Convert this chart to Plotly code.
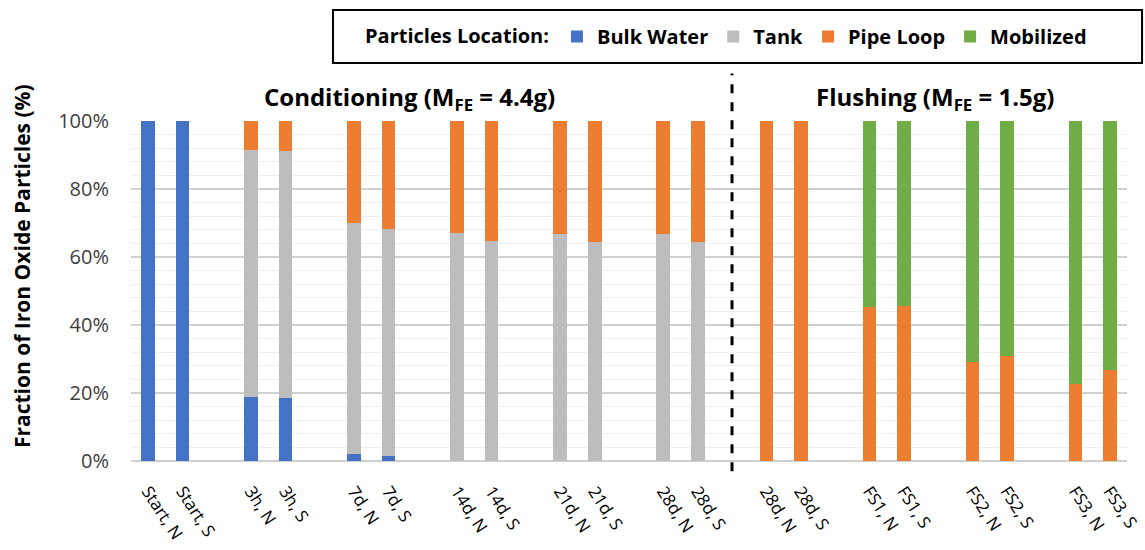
import plotly.graph_objects as go

# ---- data ----
conditioning_groups = ["Start", "3h", "7d", "14d", "21d", "28d"]
flushing_groups = ["28d", "FS1", "FS2", "FS3"]
sides = ["N", "S"]

# values (%) per bar, order: conditioning N,S pairs then flushing N,S pairs
bulk_water = [100, 100, 18.9, 18.6, 2.0, 1.6, 0, 0, 0, 0, 0, 0,
              0, 0, 0, 0, 0, 0, 0, 0]
tank = [0, 0, 72.6, 72.6, 68.1, 66.5, 67.0, 64.7, 66.8, 64.4, 66.8, 64.4,
        0, 0, 0, 0, 0, 0, 0, 0]
pipe_loop = [0, 0, 8.5, 8.8, 29.9, 31.9, 33.0, 35.3, 33.2, 35.6, 33.2, 35.6,
             100, 100, 45.4, 45.6, 29.0, 30.8, 22.6, 26.8]
mobilized = [0, 0, 0, 0, 0, 0, 0, 0, 0, 0, 0, 0,
             0, 0, 54.6, 54.4, 71.0, 69.2, 77.4, 73.2]

series_names = ["Bulk Water", "Tank", "Pipe Loop", "Mobilized"]
series_colors = ["#4472C4", "#BDBDBD", "#ED7D31", "#70AD47"]

# ---- slot positions (one empty slot between pairs) ----
labels, xs = [], []
slot = 0
all_groups = conditioning_groups + flushing_groups
for gi, g in enumerate(all_groups):
    for s in sides:
        labels.append(f"{g}, {s}")
        xs.append(slot)
        slot += 1
    slot += 1  # gap
n_cond_bars = 2 * len(conditioning_groups)
divider_x = (xs[n_cond_bars - 1] + xs[n_cond_bars]) / 2
x_max = xs[-1]

FONT = "Open Sans"
fig = go.Figure()
for name, vals, col in zip(series_names, [bulk_water, tank, pipe_loop, mobilized], series_colors):
    fig.add_trace(go.Bar(x=xs, y=vals, name=name, marker=dict(color=col, line=dict(width=0)),
                         width=0.4))

# legend frame (paper coords)
box_x0, box_x1, box_y0, box_y1 = 0.2028, 1.0151, 1.1706, 1.3265

fig.update_layout(
    barmode="stack",
    width=1145, height=550,
    margin=dict(l=131, r=18, t=121, b=89),
    plot_bgcolor="white", paper_bgcolor="white",
    font=dict(family=FONT, color="black"),
    showlegend=True,
    legend=dict(
        orientation="h", traceorder="normal",
        x=(box_x0 + box_x1) / 2 - 0.01, xanchor="center",
        y=(box_y0 + box_y1) / 2, yanchor="middle",
        borderwidth=0, bgcolor="rgba(0,0,0,0)",
        font=dict(family=FONT, size=20, color="black", weight="bold"),
        title=dict(text="Particles Location:", side="left",
                   font=dict(family=FONT, size=20, color="black", weight="bold")),
        itemwidth=30,
    ),
    bargap=0,
)
fig.add_shape(type="rect", xref="paper", yref="paper", x0=box_x0, x1=box_x1,
              y0=box_y0, y1=box_y1, line=dict(color="black", width=2), layer="below")

fig.update_xaxes(
    range=[-0.5, x_max + 0.5], automargin=False,
    tickmode="array", tickvals=xs, ticktext=labels,
    tickangle=57, tickfont=dict(family=FONT, size=17, color="black"),
    ticklabelstandoff=16,
    showgrid=False, zeroline=False, showline=False, ticks="",
)
fig.update_yaxes(
    range=[0, 100], dtick=20, ticksuffix="%", automargin=False,
    tickfont=dict(family=FONT, size=20, color="#404040"),
    ticklabelstandoff=21,
    showgrid=True, gridcolor="#D0D0D0", gridwidth=1.5,
    minor=dict(dtick=4, showgrid=True, gridcolor="#EFEFEF", gridwidth=1),
    zeroline=True, zerolinecolor="#D0D0D0", zerolinewidth=1.5,
    showline=False,
)

# y-axis title (placed as annotation to match reference position)
fig.add_annotation(x=-0.1094, y=0.5735, xref="paper", yref="paper",
                   text="Fraction of Iron Oxide Particles (%)", textangle=-90,
                   showarrow=False, xanchor="center", yanchor="middle",
                   font=dict(family=FONT, size=21, color="black", weight="bold"))

# divider line
fig.add_shape(type="line", xref="x", yref="paper", x0=divider_x, x1=divider_x,
              y0=-0.03, y1=1.14, line=dict(color="black", width=3, dash="dash"))

# section headings
cond_center = (xs[0] + xs[n_cond_bars - 1]) / 2 - 0.4
flush_center = (xs[n_cond_bars] + xs[-1]) / 2 - 0.1
fig.add_annotation(x=cond_center, y=1.0, xref="x", yref="paper", yanchor="bottom",
                   text="Conditioning (M<sub>FE</sub> = 4.4g)", showarrow=False, yshift=3,
                   font=dict(family=FONT, size=24, color="black", weight="bold"))
fig.add_annotation(x=flush_center, y=1.0, xref="x", yref="paper", yanchor="bottom",
                   text="Flushing (M<sub>FE</sub> = 1.5g)", showarrow=False, yshift=3,
                   font=dict(family=FONT, size=24, color="black", weight="bold"))

fig.write_html("out.html")
